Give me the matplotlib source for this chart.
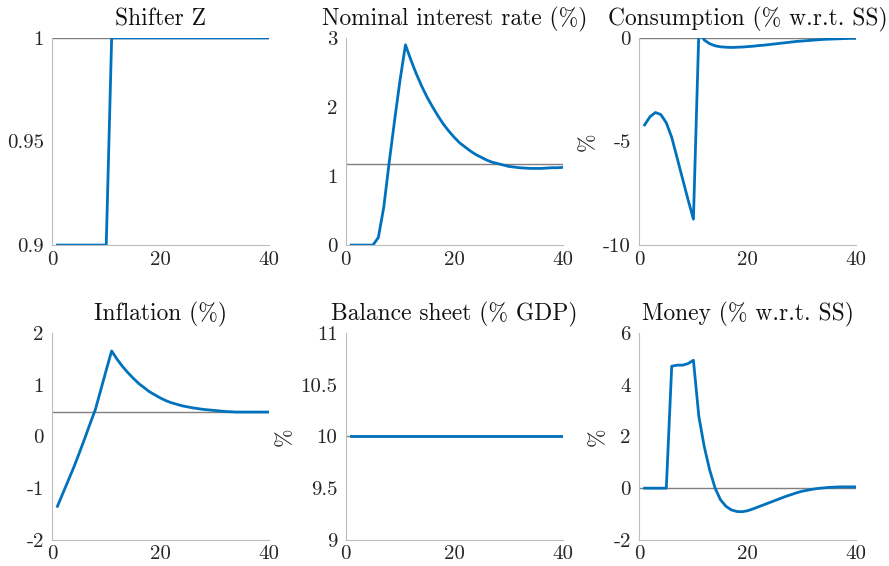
import numpy as np
import matplotlib
matplotlib.use("Agg")
import matplotlib.pyplot as plt
from matplotlib.ticker import FuncFormatter

plt.rcParams['font.family'] = 'serif'
plt.rcParams['font.serif'] = ['cmr10', 'DejaVu Serif']
plt.rcParams['mathtext.fontset'] = 'cm'
plt.rcParams['axes.unicode_minus'] = False

# periods 1..40
t = np.arange(1, 41)

# shifter Z
shifter = [0.9] * 10 + [1.0] * 30
shifter_ss = 1.0

# nominal interest rate (%)
nominal = [0, 0, 0, 0, 0, 0.11, 0.55, 1.2, 1.81, 2.39,
           2.90, 2.68, 2.48, 2.30, 2.14, 2.00, 1.87, 1.75, 1.65, 1.56,
           1.48, 1.42, 1.36, 1.31, 1.27, 1.23, 1.20, 1.18, 1.16, 1.14,
           1.13, 1.12, 1.115, 1.11, 1.11, 1.11, 1.115, 1.12, 1.12, 1.125]
nominal_ss = 1.17

# consumption (% wrt SS)
consumption = [-4.2, -3.8, -3.6, -3.7, -4.1, -4.8, -5.8, -6.8, -7.8, -8.75,
               0.3, -0.1, -0.28, -0.38, -0.43, -0.45, -0.46, -0.45, -0.44, -0.42,
               -0.40, -0.37, -0.35, -0.32, -0.29, -0.26, -0.23, -0.20, -0.17, -0.15,
               -0.13, -0.11, -0.09, -0.07, -0.06, -0.05, -0.04, -0.03, -0.02, -0.02]
consumption_ss = 0.0

# inflation (%)
inflation = [-1.35, -1.1, -0.85, -0.6, -0.33, -0.05, 0.24, 0.52, 0.9, 1.28,
             1.65, 1.49, 1.35, 1.23, 1.12, 1.02, 0.94, 0.86, 0.80, 0.74,
             0.69, 0.65, 0.62, 0.59, 0.57, 0.55, 0.535, 0.52, 0.51, 0.50,
             0.49, 0.48, 0.475, 0.47, 0.47, 0.47, 0.47, 0.47, 0.47, 0.47]
inflation_ss = 0.48

# balance sheet (% GDP)
balance = [10.0] * 40
balance_ss = 10.0

# money (% wrt SS)
money = [0, 0, 0, 0, 0, 4.71, 4.75, 4.75, 4.81, 4.94,
         2.77, 1.6, 0.7, 0.0, -0.45, -0.7, -0.84, -0.9, -0.91, -0.87,
         -0.8, -0.72, -0.64, -0.56, -0.48, -0.40, -0.32, -0.25, -0.18, -0.12,
         -0.08, -0.04, -0.01, 0.01, 0.03, 0.04, 0.05, 0.05, 0.05, 0.05]
money_ss = 0.0

panels = [
    ("Shifter Z", shifter, shifter_ss, (0.9, 1.0), [0.9, 0.95, 1.0], ""),
    ("Nominal interest rate (%)", nominal, nominal_ss, (0, 3), [0, 1, 2, 3], ""),
    ("Consumption (% w.r.t. SS)", consumption, consumption_ss, (-10, 0), [-10, -5, 0], "%"),
    ("Inflation (%)", inflation, inflation_ss, (-2, 2), [-2, -1, 0, 1, 2], ""),
    ("Balance sheet (% GDP)", balance, balance_ss, (9, 11), [9, 9.5, 10, 10.5, 11], "%"),
    ("Money (% w.r.t. SS)", money, money_ss, (-2, 6), [-2, 0, 2, 4, 6], "%"),
]

fig = plt.figure(figsize=(8.89, 5.66), dpi=100)
lefts = [0.0585, 0.389, 0.719]
bottoms = [0.567, 0.046]
w, h = 0.244, 0.366

for i, (title, vals, ss, ylim, yticks, ylab) in enumerate(panels):
    ax = fig.add_axes([lefts[i % 3], bottoms[i // 3], w, h])
    ax.axhline(ss, color='#7f7f7f', lw=1.0, zorder=1)
    ax.plot(t, vals, color='#0072BD', lw=2.0, zorder=2)
    ax.set_xlim(0, 40)
    ax.set_ylim(*ylim)
    ax.set_xticks([0, 20, 40])
    ax.set_yticks(yticks)
    ax.yaxis.set_major_formatter(FuncFormatter(lambda v, p: '%g' % v))
    for s in ['top', 'right']:
        ax.spines[s].set_visible(False)
    for s in ['left', 'bottom']:
        ax.spines[s].set_color('#bdbdbd')
        ax.spines[s].set_linewidth(0.8)
    ax.tick_params(axis='y', length=0, labelsize=15, colors='#262626', pad=6)
    ax.tick_params(axis='x', length=0, labelsize=15, colors='#262626', pad=4)
    ax.set_title(title, fontsize=16.9, color='#111111', pad=9)
    if ylab:
        ax.set_ylabel(ylab, fontsize=16, color='#262626', labelpad=4)

fig.savefig("out.png", dpi=100)
